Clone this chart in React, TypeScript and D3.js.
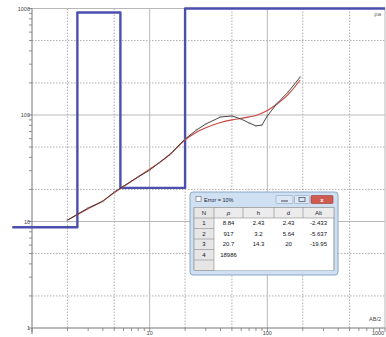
import React from "react";
import * as d3 from "d3";

// Layered model (resistivity and depth of layer bottoms)
const modelRho = [8.84, 917, 20.7, 18986];
const modelDepth = [2.43, 5.64, 20];
const modelStart = 0.68;
const modelEnd = 1000;

// Observed apparent resistivity
const obsAB2 = [2, 3, 4, 5, 6, 8, 10, 12, 15, 20, 25, 30, 40, 50, 60, 70, 80, 90, 100, 120, 150, 190];
const obsRho = [10.3, 13.4, 15.5, 18.9, 21.5, 26.2, 30.4, 35.4, 43, 59.5, 72.3, 82.3, 95.8, 97.9, 91.6, 84.2, 79, 80.5, 98, 127, 164, 227];

// Fitted curve
const fitAB2 = [2, 3, 4, 5, 6, 8, 10, 12, 15, 20, 25, 30, 40, 50, 60, 70, 80, 100, 120, 150, 190];
const fitRho = [10.3, 13.2, 15.6, 18.6, 21.3, 26.3, 31, 35.5, 43, 58.5, 69, 76, 85, 90, 93, 96, 99, 110, 126, 155, 213];

const majorTicks = [1, 10, 100, 1000];
const minorGrid = [2, 5, 20, 50, 200, 500];
const xLabels = ["10", "100", "1000"];
const yLabels = ["1", "10", "100", "1000"];

const tableTitle = "Error = 10%";
const tableHeaders = ["N", "ρ", "h", "d", "Alt"];
const tableRows = [
  ["1", "8.84", "2.43", "2.43", "-2.433"],
  ["2", "917", "3.2", "5.64", "-5.637"],
  ["3", "20.7", "14.3", "20", "-19.95"],
  ["4", "18986", "", "", ""],
  ["", "", "", "", ""],
];

export default function App() {
  const W = 386, H = 337;
  const x = d3.scaleLog().domain([1, 1000]).range([32, 385]);
  const y = d3.scaleLog().domain([1, 1000]).range([328, 8.5]);
  const yc = d3.scaleLog().domain([1, 1000]).range([328, 8.5]).clamp(true);

  const minorTicks: number[] = [];
  [1, 10, 100].forEach((dec) => {
    for (let k = 2; k <= 9; k++) minorTicks.push(dec * k);
  });

  const modelPts: [number, number][] = [[modelStart, modelRho[0]]];
  modelDepth.forEach((d, i) => {
    modelPts.push([d, modelRho[i]]);
    modelPts.push([d, modelRho[i + 1]]);
  });
  modelPts.push([modelEnd, modelRho[modelRho.length - 1]]);

  const modelLine = d3.line<[number, number]>().x((p) => x(p[0])).y((p) => yc(p[1]));
  const obsPath = d3.line<number>().x((v) => x(v)).y((_, i) => y(obsRho[i]))(obsAB2);
  const fitPath = d3.line<number>().curve(d3.curveMonotoneX).x((v) => x(v)).y((_, i) => y(fitRho[i]))(fitAB2);

  const font = "'Liberation Sans', Arial, sans-serif";

  // table geometry
  const wx = 190, wy = 192, ww = 148, wh = 83;
  const colB = [194, 214, 243, 274, 303, 334];
  const rowTop = 207.5, rowH = 10.5;

  return (
    <svg width={W} height={H} style={{ position: "absolute", left: 0, top: 0, background: "#fff" }} fontFamily={font}>
      <rect x={0} y={0} width={W} height={H} fill="#fff" />
      {/* grid */}
      {minorGrid.map((v) => (
        <g key={"mg" + v}>
          <line x1={x(v)} x2={x(v)} y1={y(1000)} y2={y(1)} stroke="#9a9a9a" strokeWidth={0.8} strokeDasharray="1.5,1.5" />
          <line x1={x(1)} x2={x(1000)} y1={y(v)} y2={y(v)} stroke="#9a9a9a" strokeWidth={0.8} strokeDasharray="1.5,1.5" />
        </g>
      ))}
      {majorTicks.slice(1).map((v) => (
        <g key={"Mg" + v}>
          <line x1={x(v)} x2={x(v)} y1={y(1000)} y2={y(1)} stroke="#b8b8b8" strokeWidth={1} />
          <line x1={x(1)} x2={x(1000)} y1={y(v)} y2={y(v)} stroke="#b8b8b8" strokeWidth={1} />
        </g>
      ))}
      {/* axes */}
      <line x1={x(1)} x2={x(1)} y1={y(1000)} y2={y(1) + 6} stroke="#777" strokeWidth={1} />
      <line x1={x(1)} x2={x(1000)} y1={y(1)} y2={y(1)} stroke="#777" strokeWidth={1} />
      {minorTicks.map((v) => (
        <g key={"t" + v}>
          <line x1={x(1) - 3} x2={x(1)} y1={y(v)} y2={y(v)} stroke="#777" strokeWidth={0.8} />
          <line x1={x(v)} x2={x(v)} y1={y(1)} y2={y(1) + 3} stroke="#777" strokeWidth={0.8} />
        </g>
      ))}
      {majorTicks.map((v) => (
        <g key={"T" + v}>
          <line x1={x(1) - 4} x2={x(1)} y1={y(v)} y2={y(v)} stroke="#777" strokeWidth={0.8} />
          <line x1={x(v)} x2={x(v)} y1={y(1)} y2={y(1) + 4} stroke="#777" strokeWidth={0.8} />
        </g>
      ))}
      {yLabels.map((t, i) => (
        <text key={"yl" + t} x={x(1) - 2} y={y(majorTicks[i]) + 2} fontSize={5.5} textAnchor="end" fill="#444">{t}</text>
      ))}
      {xLabels.map((t, i) => (
        <text key={"xl" + t} x={Math.min(x(majorTicks[i + 1]), 378)} y={335} fontSize={5.5} textAnchor="middle" fill="#444">{t}</text>
      ))}
      <text x={381} y={321} fontSize={5.5} textAnchor="end" fill="#444">AB/2</text>
      <text x={381} y={16} fontSize={6} textAnchor="end" fill="#666">ρa</text>

      {/* model */}
      <path d={modelLine(modelPts) || ""} fill="none" stroke="#4b4fae" strokeWidth={2.4} strokeLinejoin="round" />
      {/* curves */}
      <path d={fitPath || ""} fill="none" stroke="#c9443c" strokeWidth={1.1} />
      <path d={obsPath || ""} fill="none" stroke="#3a3030" strokeWidth={0.9} />
      {obsAB2.map((v, i) => (
        <circle key={"o" + i} cx={x(v)} cy={y(obsRho[i])} r={0.9} fill="none" stroke="#888" strokeWidth={0.5} />
      ))}

      {/* table window */}
      <g>
        <rect x={wx} y={wy} width={ww} height={wh} rx={3} fill="#cfe0f2" stroke="#8aa6c6" strokeWidth={1} />
        <rect x={196} y={196.5} width={5} height={5} fill="#fff" stroke="#667" strokeWidth={0.6} />
        <text x={204} y={201.5} fontSize={5.5} fill="#223">{tableTitle}</text>
        <rect x={276} y={195.5} width={17} height={8} rx={1} fill="#dbe7f4" stroke="#8fa6c0" strokeWidth={0.6} />
        <rect x={294.5} y={195.5} width={15} height={8} rx={1} fill="#dbe7f4" stroke="#8fa6c0" strokeWidth={0.6} />
        <rect x={311} y={195.5} width={22} height={8} rx={1} fill="#cf5a4f" stroke="#9a3a32" strokeWidth={0.6} />
        <line x1={281} x2={288} y1={201} y2={201} stroke="#445" strokeWidth={1} />
        <rect x={299} y={197.5} width={6} height={4} fill="none" stroke="#445" strokeWidth={0.7} />
        <text x={322} y={202} fontSize={6} fill="#fff" textAnchor="middle" fontWeight="bold">x</text>
        <rect x={colB[0]} y={rowTop} width={colB[5] - colB[0]} height={rowH * 6} fill="#fff" stroke="#9aa" strokeWidth={0.6} />
        <rect x={colB[0]} y={rowTop} width={colB[5] - colB[0]} height={rowH} fill="#ececec" />
        <rect x={colB[0]} y={rowTop} width={colB[1] - colB[0]} height={rowH * 6} fill="#e6e6e6" />
        {d3.range(7).map((r) => (
          <line key={"rl" + r} x1={colB[0]} x2={r === 0 || r === 1 ? colB[5] : colB[1]} y1={rowTop + r * rowH} y2={rowTop + r * rowH} stroke="#8a8a8a" strokeWidth={0.6} />
        ))}
        {colB.map((c, i) => (
          <line key={"cl" + i} x1={c} x2={c} y1={rowTop} y2={i === 0 || i === 1 || i === 5 ? rowTop + rowH * 6 : rowTop + rowH} stroke="#8a8a8a" strokeWidth={0.6} />
        ))}
        {tableHeaders.map((h, i) => (
          <text key={"h" + i} x={(colB[i] + colB[i + 1]) / 2} y={rowTop + rowH / 2 + 2} fontSize={6} textAnchor="middle" fill="#223" fontStyle={i === 1 ? "italic" : "normal"}>{h}</text>
        ))}
        {tableRows.map((row, r) =>
          row.map((v, c) => (
            <text key={"c" + r + "_" + c} x={(colB[c] + colB[c + 1]) / 2} y={rowTop + (r + 1) * rowH + rowH / 2 + 2} fontSize={6} textAnchor="middle" fill="#112">{v}</text>
          ))
        )}
      </g>
    </svg>
  );
}
